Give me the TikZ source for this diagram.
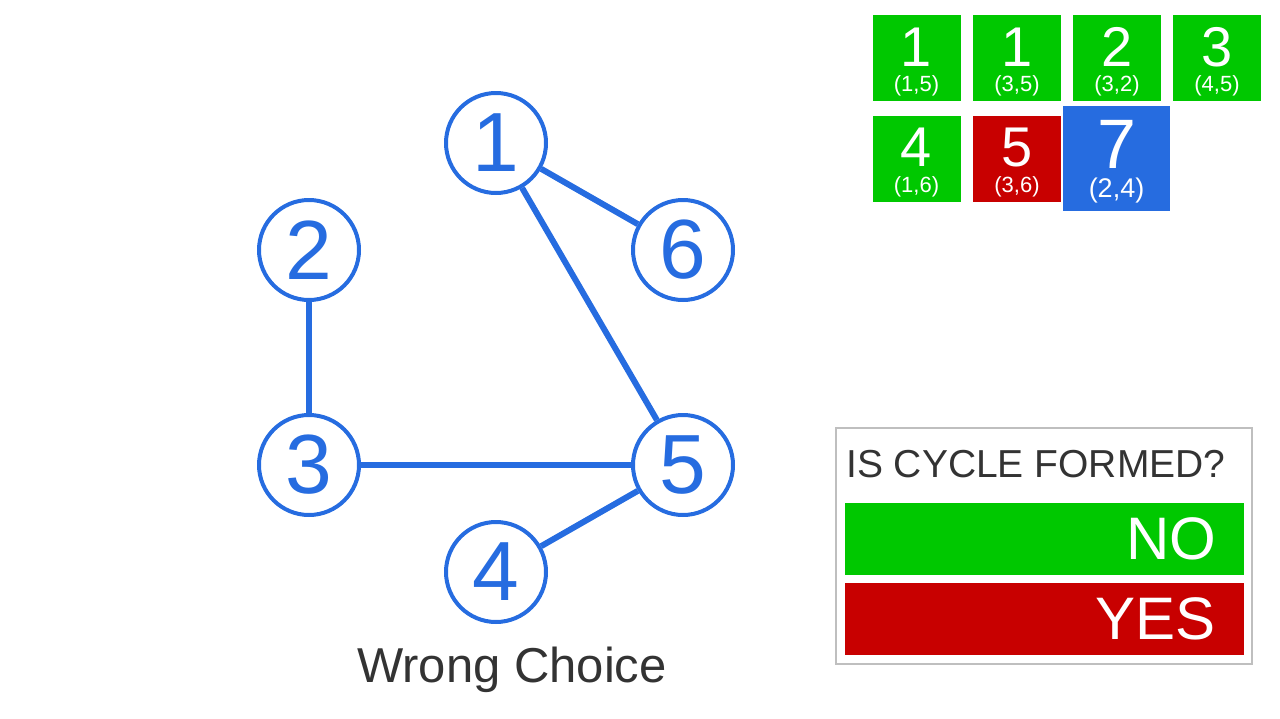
\documentclass[tikz,border=0pt]{standalone}
\usepackage{fontspec}
\setmainfont{Liberation Sans}
\usepackage{tikz}
\usetikzlibrary{positioning}

\definecolor{kblue}{RGB}{38,108,224}
\definecolor{kgreen}{RGB}{0,200,0}
\definecolor{kred}{RGB}{200,0,0}
\definecolor{kgray}{RGB}{51,51,51}

\begin{document}
\begin{tikzpicture}[x=1pt, y=1pt, node distance={215pt},
    main/.style = {draw=kblue, circle, line width=4pt, minimum size=100pt, inner sep=0pt, text=kblue, font=\fontsize{84}{84}\selectfont},
    link/.style = {draw=kblue, line width=6pt},
    tile/.style = {minimum width=88pt, minimum height=86pt, inner sep=0pt},
    bignum/.style = {text=white, inner sep=0pt, font=\fontsize{56}{56}\selectfont},
    pair/.style = {text=white, inner sep=0pt, font=\fontsize{22}{22}\selectfont},
    bar/.style = {minimum width=399pt, minimum height=72pt, inner sep=0pt},
    answer/.style = {text=white, inner sep=0pt, anchor=east, font=\fontsize{60}{60}\selectfont}]

    \useasboundingbox (0,0) rectangle (1280,-718);

    % the graph
    \node[main] (1) at (496,-143) {1};
    \node[main] (2) at (309,-250) {2};
    \node[main] (3) [below of=2] {3};
    \node[main] (6) at (683,-250) {6};
    \node[main] (5) [below of=6] {5};
    \node[main] (4) at (496,-572) {4};

    \draw[link] (1) -- (6);
    \draw[link] (1) -- (5);
    \draw[link] (2) -- (3);
    \draw[link] (3) -- (5);
    \draw[link] (4) -- (5);

    \node[text=kgray, font=\fontsize{49}{49}\selectfont] (caption) at (512,-670) {Wrong Choice};

    % sorted edges
    \node[tile, fill=kgreen] (e1) at (916.5,-58) {};
    \node[bignum] at ([yshift=11pt]e1.center) {1};
    \node[pair] at ([yshift=-28pt]e1.center) {(1,5)};
    \node[tile, fill=kgreen] (e2) at (1017,-58) {};
    \node[bignum] at ([yshift=11pt]e2.center) {1};
    \node[pair] at ([yshift=-28pt]e2.center) {(3,5)};
    \node[tile, fill=kgreen] (e3) at (1117,-58) {};
    \node[bignum] at ([yshift=11pt]e3.center) {2};
    \node[pair] at ([yshift=-28pt]e3.center) {(3,2)};
    \node[tile, fill=kgreen] (e4) at (1217,-58) {};
    \node[bignum] at ([yshift=11pt]e4.center) {3};
    \node[pair] at ([yshift=-28pt]e4.center) {(4,5)};
    \node[tile, fill=kgreen] (e5) at (916.5,-158.5) {};
    \node[bignum] at ([yshift=11pt]e5.center) {4};
    \node[pair] at ([yshift=-28pt]e5.center) {(1,6)};
    \node[tile, fill=kred] (e6) at (1017,-158.5) {};
    \node[bignum] at ([yshift=11pt]e6.center) {5};
    \node[pair] at ([yshift=-28pt]e6.center) {(3,6)};
    \node[tile, fill=kblue, minimum width=107pt, minimum height=105pt] (e7) at (1116.5,-158.5) {};
    \node[bignum, font=\fontsize{70}{70}\selectfont] at ([yshift=14.5pt]e7.center) {7};
    \node[pair, font=\fontsize{27}{27}\selectfont] at ([yshift=-32.5pt]e7.center) {(2,4)};

    % question panel
    \node[draw=black!25, line width=2pt, minimum width=416pt, minimum height=236pt, inner sep=0pt] (panel) at (1044,-546) {};
    \node[text=kgray, anchor=west, inner sep=0pt, font=\fontsize{39}{39}\selectfont] (question) at (846,-464) {IS CYCLE FORMED?};
    \node[bar, fill=kgreen] (no) at (1044.5,-538.5) {};
    \node[answer] at ([xshift=-28pt]no.east) {NO};
    \node[bar, fill=kred] (yes) at (1044.5,-619) {};
    \node[answer] at ([xshift=-28pt]yes.east) {YES};

\end{tikzpicture}
\end{document}
